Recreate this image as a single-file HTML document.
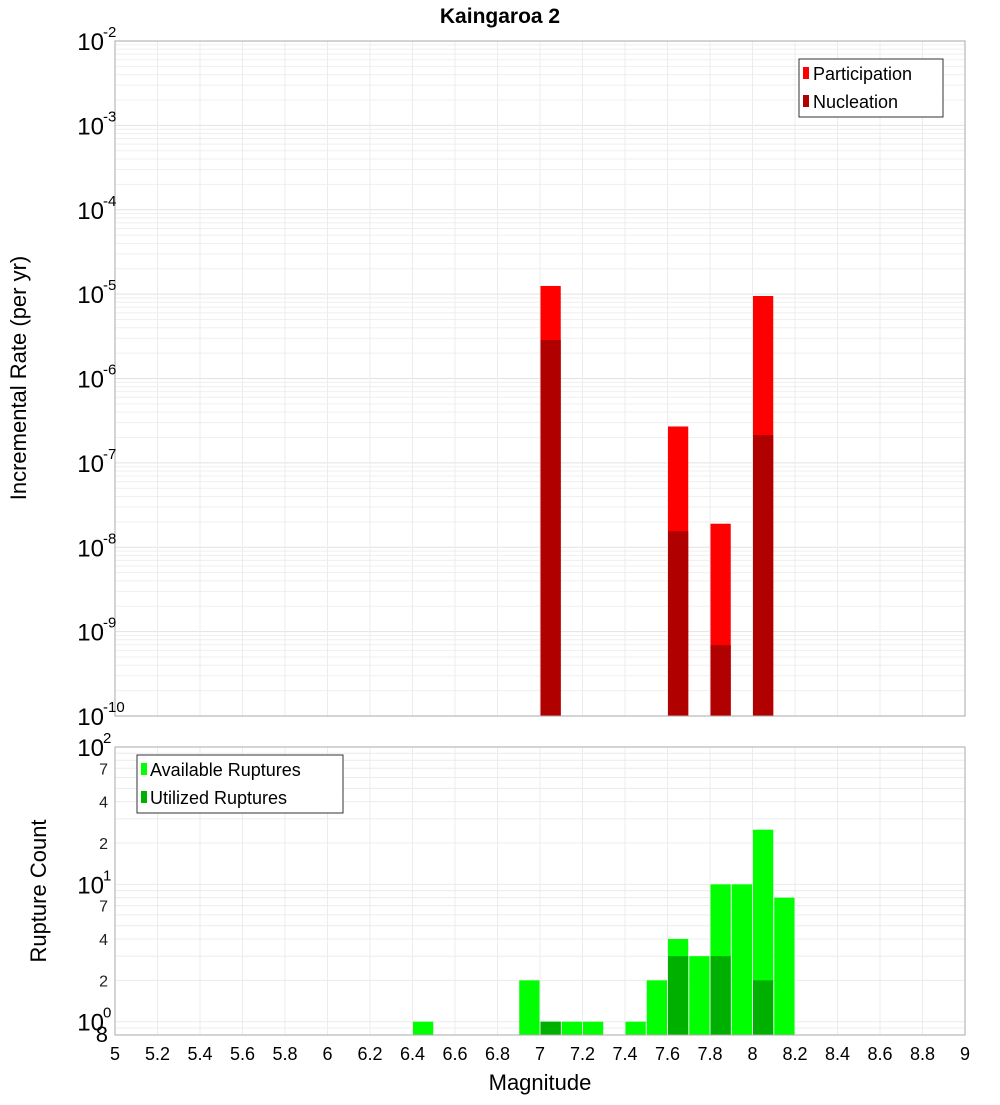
<!DOCTYPE html>
<html><head><meta charset="utf-8"><style>
body{margin:0;background:#fff;}
svg text{font-family:"Liberation Sans","DejaVu Sans",sans-serif;}
</style></head><body>
<svg id="chart" width="1000" height="1100" xmlns="http://www.w3.org/2000/svg">
<text x="500" y="23" text-anchor="middle" font-size="21" font-weight="bold" font-family="DejaVu Sans, sans-serif">Kaingaroa 2</text>
<g id="topPlot"></g>
<g id="botPlot"></g>
<text transform="translate(26,378) rotate(-90)" text-anchor="middle" font-size="22" font-family="DejaVu Sans, sans-serif">Incremental Rate (per yr)</text>
<text transform="translate(46,891) rotate(-90)" text-anchor="middle" font-size="22" font-family="DejaVu Sans, sans-serif">Rupture Count</text>
<text x="540" y="1090" text-anchor="middle" font-size="22" font-family="DejaVu Sans, sans-serif">Magnitude</text>
</svg>
<script>
const rateMags=[7.05,7.65,7.85,8.05];
const participation=[1.25e-5,2.7e-7,1.9e-8,9.5e-6];
const nucleation=[2.86e-6,1.55e-8,6.9e-10,2.14e-7];
const countMags=[6.45,6.95,7.05,7.15,7.25,7.45,7.55,7.65,7.75,7.85,7.95,8.05,8.15];
const available=[1,2,1,1,1,1,2,4,3,10,10,25,8];
const utilMags=[7.05,7.65,7.85,8.05];
const utilized=[1,3,3,2];
const xTicks=[5,5.2,5.4,5.6,5.8,6,6.2,6.4,6.6,6.8,7,7.2,7.4,7.6,7.8,8,8.2,8.4,8.6,8.8,9];
const topExps=[-2,-3,-4,-5,-6,-7,-8,-9,-10];
const botMinor=[2,4,7,20,40,70];

const NS="http://www.w3.org/2000/svg";
const X0=115,X1=965;
const xs=m=>X0+(m-5)/4*(X1-X0);
const T0=41,T1=716;
const yTop=v=>T1-(Math.log10(v)+10)/8*(T1-T0);
const B0=747,B1=1035;
const yBot=v=>B1-(Math.log10(v)-Math.log10(0.8))/(2-Math.log10(0.8))*(B1-B0);
function el(p,t,a){const e=document.createElementNS(NS,t);for(const k in a)e.setAttribute(k,a[k]);p.appendChild(e);return e;}
const topG=document.getElementById('topPlot'),botG=document.getElementById('botPlot');

for(let d=-10;d<-2;d++)for(let k=1;k<10;k++){const y=yTop(k*Math.pow(10,d));const g=el(topG,'line',{x1:X0,x2:X1,y1:y,y2:y,stroke:k==1?'#e2e2e2':'#efefef','stroke-width':1});

}
xTicks.forEach(t=>{const x=xs(t);const g=el(topG,'line',{x1:x,x2:x,y1:T0,y2:T1,stroke:'#ececec'});


 const g2=el(botG,'line',{x1:x,x2:x,y1:B0,y2:B1,stroke:'#ececec'});

});
const bw=(xs(5.1)-xs(5))-1;
rateMags.forEach((m,i)=>{
 const b=el(topG,'rect',{x:xs(m)-bw/2,y:yTop(participation[i]),width:bw,height:T1-yTop(participation[i]),fill:'#ff0000'});
 
 
 const n=el(topG,'rect',{x:xs(m)-bw/2,y:yTop(nucleation[i]),width:bw,height:T1-yTop(nucleation[i]),fill:'#b00000'});
 
 
});
el(topG,'rect',{x:X0,y:T0,width:X1-X0,height:T1-T0,fill:'none',stroke:'#aaa'});
topExps.forEach(e=>{const y=yTop(Math.pow(10,e));
 const t=el(topG,'text',{x:104,y:y+9,'text-anchor':'end','font-size':24});t.textContent='10';
 
 
 const s=el(topG,'text',{x:103,y:y-4,'font-size':15});s.textContent=String(e);
 
 });
const lg=el(topG,'g',{});


el(lg,'rect',{x:799,y:59,width:144,height:58,fill:'#fff',stroke:'#333'});
el(lg,'rect',{x:803,y:67,width:6,height:12,fill:'#ff0000'});
el(lg,'rect',{x:803,y:95,width:6,height:12,fill:'#b00000'});
let t=el(lg,'text',{x:813,y:80,'font-size':18,'font-family':'DejaVu Sans, sans-serif'});t.textContent='Participation';
t=el(lg,'text',{x:813,y:108,'font-size':18,'font-family':'DejaVu Sans, sans-serif'});t.textContent='Nucleation';

for(let d=-1;d<2;d++)for(let k=1;k<10;k++){const v=k*Math.pow(10,d);if(v<0.8)continue;const y=yBot(v);const g=el(botG,'line',{x1:X0,x2:X1,y1:y,y2:y,stroke:'#ececec'});

}
countMags.forEach((m,i)=>{const b=el(botG,'rect',{x:xs(m)-bw/2,y:yBot(available[i]),width:bw,height:B1-yBot(available[i]),fill:'#00ff00'});
 
 });
utilMags.forEach((m,i)=>{const b=el(botG,'rect',{x:xs(m)-bw/2,y:yBot(utilized[i]),width:bw,height:B1-yBot(utilized[i]),fill:'#00b000'});
 
 });
el(botG,'rect',{x:X0,y:B0,width:X1-X0,height:B1-B0,fill:'none',stroke:'#aaa'});
[2,1,0].forEach(e=>{const y=yBot(Math.pow(10,e));
 const t=el(botG,'text',{x:104,y:y+9,'text-anchor':'end','font-size':24});t.textContent='10';
 
 
 const s=el(botG,'text',{x:103,y:y-4,'font-size':15});s.textContent=String(e);
 
 });
botMinor.forEach(v=>{const t=el(botG,'text',{x:108,y:yBot(v)+6,'text-anchor':'end','font-size':16,fill:'#222'});t.textContent=String(v).charAt(0);
 
 });
t=el(botG,'text',{x:108,y:1042,'text-anchor':'end','font-size':22});t.textContent='8';


xTicks.forEach(v=>{const t=el(botG,'text',{x:xs(v),y:1060,'text-anchor':'middle','font-size':18,'font-family':'DejaVu Sans, sans-serif'});t.textContent=String(v);
 
 });
const lg2=el(botG,'g',{});


el(lg2,'rect',{x:137,y:755,width:206,height:58,fill:'#fff',stroke:'#333'});
el(lg2,'rect',{x:141,y:763,width:6,height:12,fill:'#00ff00'});
el(lg2,'rect',{x:141,y:791,width:6,height:12,fill:'#00b000'});
t=el(lg2,'text',{x:150,y:776,'font-size':18,'font-family':'DejaVu Sans, sans-serif'});t.textContent='Available Ruptures';
t=el(lg2,'text',{x:150,y:804,'font-size':18,'font-family':'DejaVu Sans, sans-serif'});t.textContent='Utilized Ruptures';
</script>
</body></html>
